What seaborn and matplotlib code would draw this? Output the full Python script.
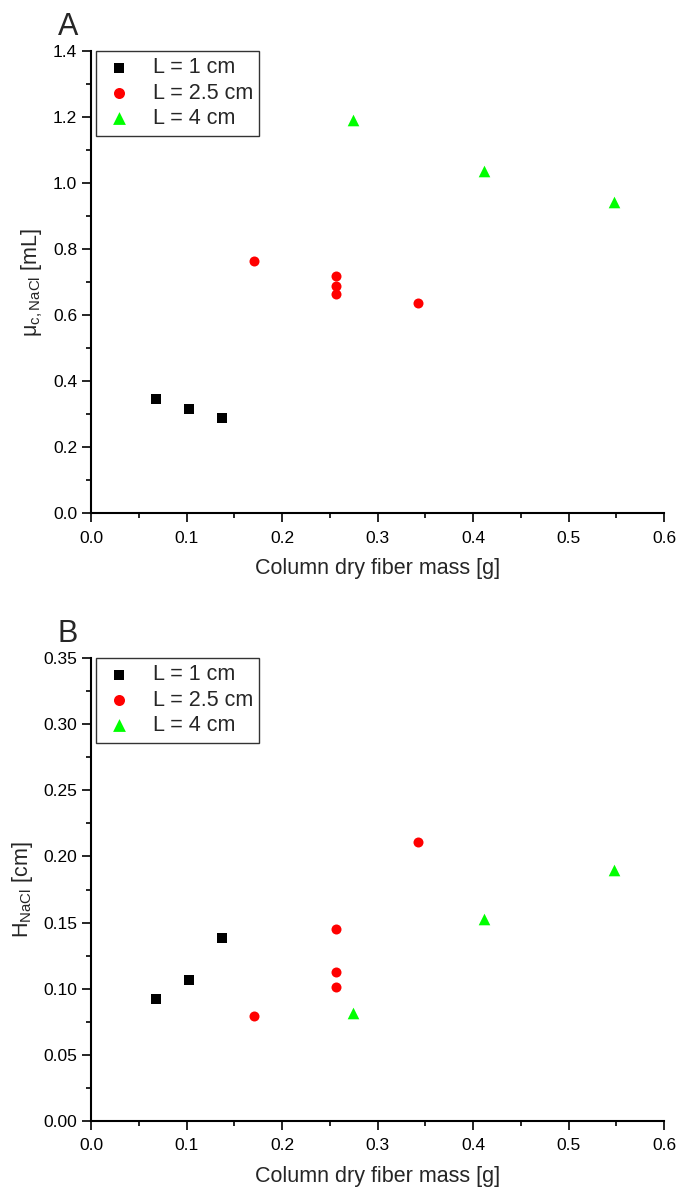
import numpy as np
import pandas as pd
import matplotlib
matplotlib.use("Agg")
import matplotlib.pyplot as plt
import seaborn as sns
from matplotlib.ticker import MultipleLocator

# ---- data ----
groups = ["L = 1 cm", "L = 2.5 cm", "L = 4 cm"]
mass_1cm = [0.0685, 0.103, 0.137]
mass_25cm = [0.171, 0.257, 0.257, 0.257, 0.342]
mass_4cm = [0.274, 0.411, 0.548]

mu_1cm = [0.347, 0.316, 0.288]
mu_25cm = [0.764, 0.719, 0.688, 0.663, 0.638]
mu_4cm = [1.190, 1.038, 0.942]

h_1cm = [0.092, 0.1065, 0.1387]
h_25cm = [0.0795, 0.145, 0.1123, 0.1014, 0.211]
h_4cm = [0.082, 0.153, 0.190]

colors = {"L = 1 cm": "#000000", "L = 2.5 cm": "#FF0000", "L = 4 cm": "#00FF00"}
markers = {"L = 1 cm": "s", "L = 2.5 cm": "o", "L = 4 cm": "^"}
sizes = {"L = 1 cm": 46, "L = 2.5 cm": 52, "L = 4 cm": 70}

df = pd.DataFrame({
    "mass": mass_1cm + mass_25cm + mass_4cm,
    "mu": mu_1cm + mu_25cm + mu_4cm,
    "H": h_1cm + h_25cm + h_4cm,
    "L": [groups[0]] * len(mass_1cm) + [groups[1]] * len(mass_25cm) + [groups[2]] * len(mass_4cm),
})

sns.set_theme(style="ticks")
plt.rcParams["font.family"] = ["Liberation Sans", "DejaVu Sans"]
plt.rcParams["mathtext.fontset"] = "custom"
plt.rcParams["mathtext.rm"] = "Liberation Sans"
plt.rcParams["mathtext.it"] = "Liberation Sans:italic"

fig = plt.figure(figsize=(6.79, 11.88), dpi=100)
ax1 = fig.add_axes([91 / 679, 1 - 513.3 / 1188, 573 / 679, 462.3 / 1188])
ax2 = fig.add_axes([91 / 679, 1 - 1121 / 1188, 573 / 679, 463 / 1188])


def draw(ax, ycol, ylim, ymaj, ylabel, panel, fmt):
    for g in groups:
        sub = df[df["L"] == g]
        sns.scatterplot(data=sub, x="mass", y=ycol, ax=ax, color=colors[g],
                        marker=markers[g], s=sizes[g], linewidth=0, label=g,
                        legend=True, clip_on=False, zorder=3)
    ax.set_xlim(0, 0.6)
    ax.set_ylim(*ylim)
    ax.xaxis.set_major_locator(MultipleLocator(0.1))
    ax.xaxis.set_minor_locator(MultipleLocator(0.05))
    ax.yaxis.set_major_locator(MultipleLocator(ymaj))
    ax.yaxis.set_minor_locator(MultipleLocator(ymaj / 2))
    ax.xaxis.set_major_formatter(plt.FormatStrFormatter("%.1f"))
    ax.yaxis.set_major_formatter(plt.FormatStrFormatter(fmt))
    for s in ["top", "right"]:
        ax.spines[s].set_visible(False)
    for s in ["left", "bottom"]:
        ax.spines[s].set_linewidth(1.5)
        ax.spines[s].set_color("black")
    ax.tick_params(which="major", direction="out", length=6.5, width=1.2,
                   labelsize=12.5, colors="black")
    ax.tick_params(which="minor", direction="out", length=3.5, width=1.2,
                   colors="black")
    ax.tick_params(axis="x", which="major", pad=6)
    ax.tick_params(axis="y", which="major", pad=3.5)
    ax.set_xlabel("Column dry fiber mass [g]", fontsize=15.5, labelpad=9)
    ax.set_ylabel(ylabel, fontsize=15.5, labelpad=6)
    leg = ax.legend(loc="upper left", bbox_to_anchor=(0.008, 1.0),
                    borderaxespad=0, fontsize=15.5, frameon=True, fancybox=False,
                    handletextpad=0.75, labelspacing=0.2, borderpad=0.3,
                    handlelength=1.6, markerscale=1.1)
    leg.get_frame().set_edgecolor("black")
    leg.get_frame().set_linewidth(1.0)
    ax.text(-0.058, 1.035, panel, transform=ax.transAxes, fontsize=22,
            va="baseline", ha="left")
    ax.set_facecolor("white")


draw(ax1, "mu", (0, 1.4), 0.2, r"μ$_{\mathregular{c,NaCl}}$ [mL]", "A", "%.1f")
draw(ax2, "H", (0, 0.35), 0.05, r"H$_{\mathregular{NaCl}}$ [cm]", "B", "%.2f")

fig.savefig("out.png", dpi=100, facecolor="white")
